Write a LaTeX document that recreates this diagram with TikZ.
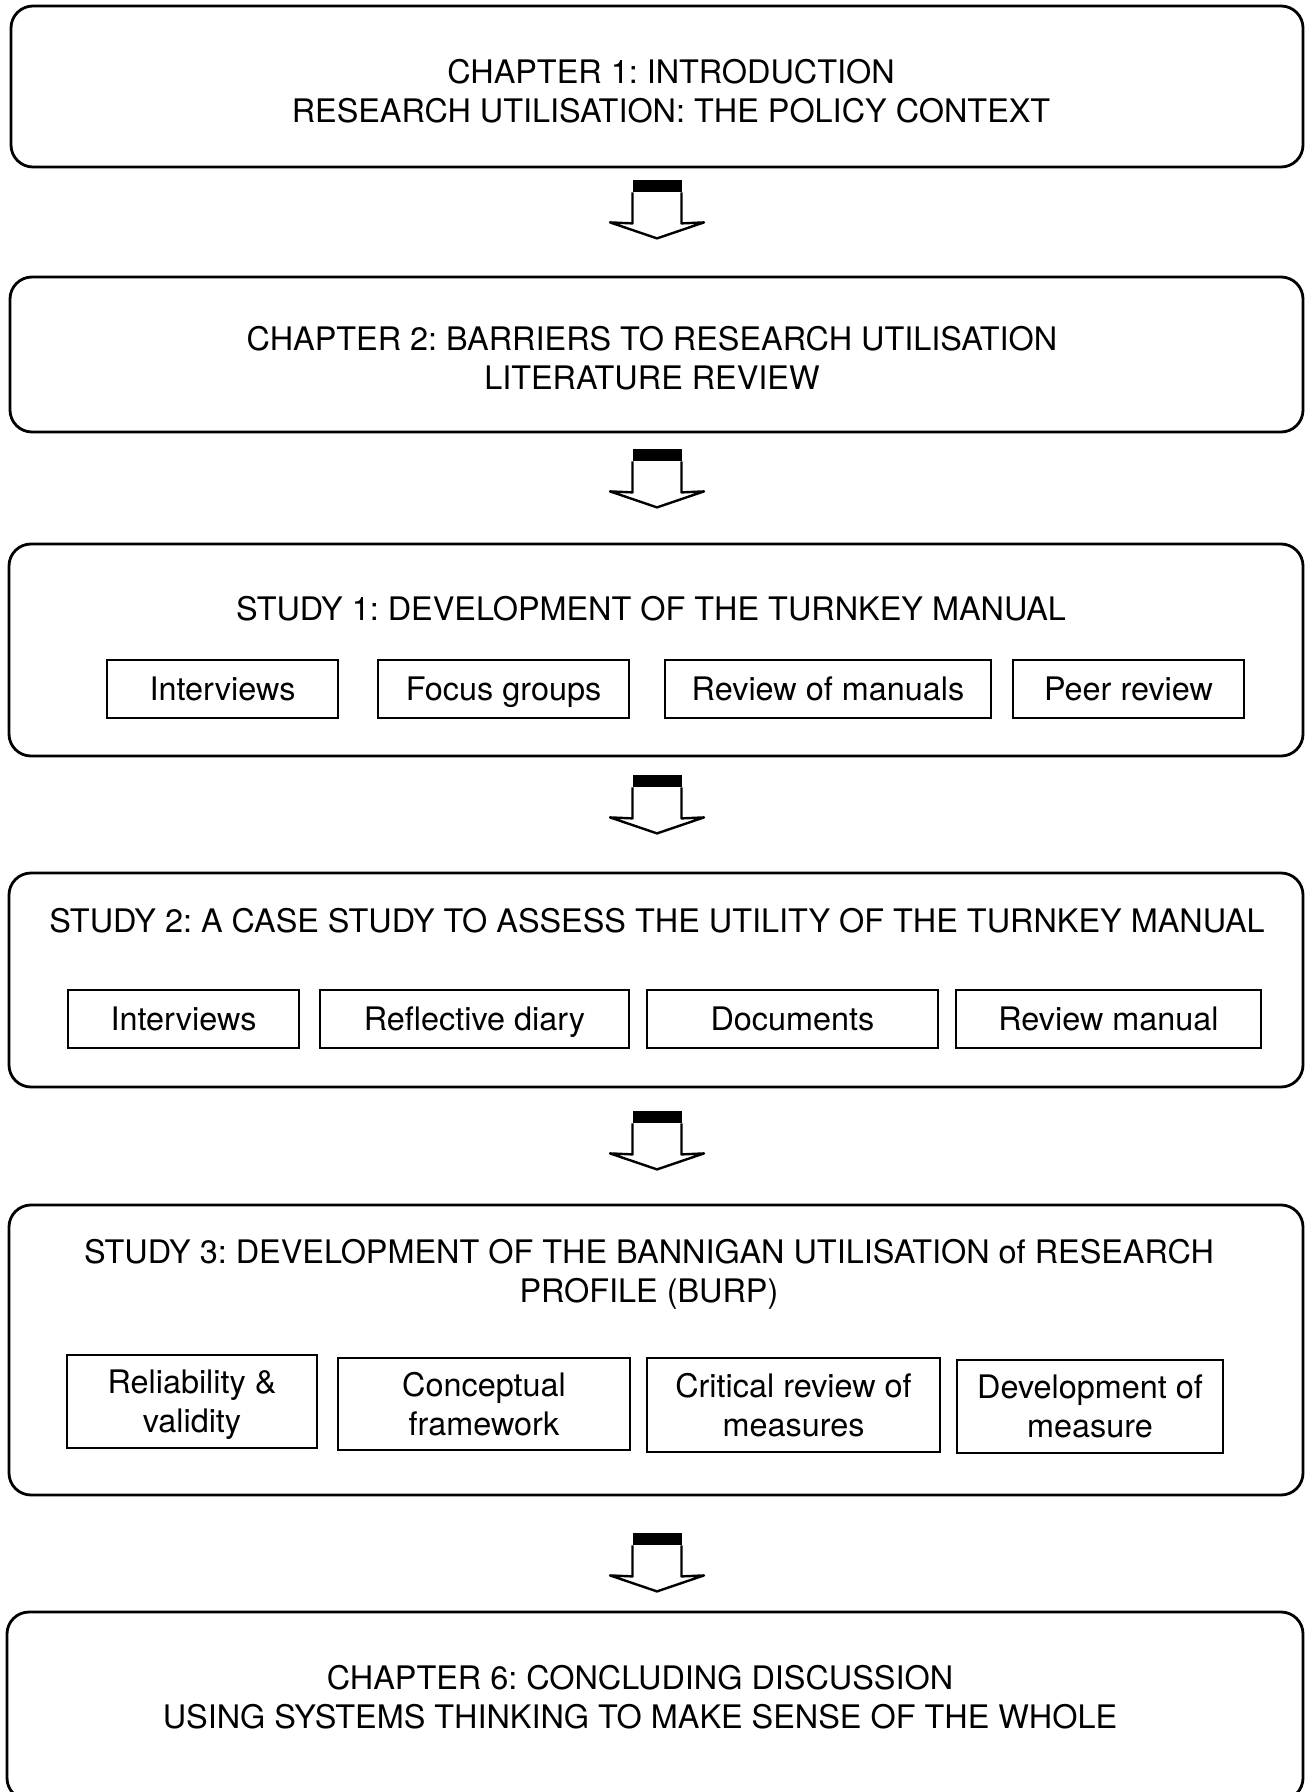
\documentclass[tikz,border=0pt]{standalone}
\usepackage{fontspec}
\setmainfont{TeX Gyre Heros}
\usetikzlibrary{calc}

\begin{document}
\frenchspacing
\begin{tikzpicture}[
  x=0.5pt, y=-0.5pt,
  every node/.style={font=\fontsize{16.2pt}{19.5pt}\selectfont, inner sep=0pt, align=center},
  bigbox/.style 2 args={draw, line width=1.4pt, rounded corners=11pt,
    minimum width=#1*0.5pt, minimum height=#2*0.5pt},
  subbox/.style 2 args={draw, line width=1pt,
    minimum width=#1*0.5pt, minimum height=#2*0.5pt},
  oneline/.style={text height=11.6pt, text depth=0pt},
  twoline/.style={text depth=0pt},
  blockarrow/.pic={
    \fill (-24.5,0) rectangle (24.5,12);
    \draw[line width=1.2pt, fill=white, line join=round]
      (-24.5,12) -- (-24.5,43) -- (-47,42) -- (0,58) -- (47,42) -- (24.5,43) -- (24.5,12);
  }
]
\useasboundingbox (0,0) rectangle (1311,1792);
\clip (0,0) rectangle (1311,1792);

% chapter and study frames
\node[bigbox={1292}{161}] (ch1) at (657,86.5) {};
\node[bigbox={1293}{155}] (ch2) at (656.5,354.5) {};
\node[bigbox={1294}{212}] (st1) at (656,650) {};
\node[bigbox={1294}{214}] (st2) at (656,980) {};
\node[bigbox={1294}{290}] (st3) at (656,1350) {};
\node[bigbox={1296}{188}] (ch6) at (655,1706) {};

% frame titles
\node (ch1t) at (671,91.5) {CHAPTER 1: INTRODUCTION\\RESEARCH UTILISATION: THE POLICY CONTEXT};
\node (ch2t) at (652,358.5) {CHAPTER 2: BARRIERS TO RESEARCH UTILISATION\\LITERATURE REVIEW};
\node (st1t) at (651,609) {STUDY 1: DEVELOPMENT OF THE TURNKEY MANUAL};
\node (st2t) at (657,921) {STUDY 2: A CASE STUDY TO ASSESS THE UTILITY OF THE TURNKEY MANUAL};
\node (st3t) at (649,1274) {STUDY 3: DEVELOPMENT OF THE BANNIGAN UTILISATION of RESEARCH\\PROFILE (BURP)};
\node (ch6t) at (640,1697) {CHAPTER 6: CONCLUDING DISCUSSION\\USING SYSTEMS THINKING TO MAKE SENSE OF THE WHOLE};

% study 1 components
\node[subbox={231}{58}, oneline] (s1a) at (222.5,689) {Interviews};
\node[subbox={251}{58}, oneline] (s1b) at (503.5,689) {Focus groups};
\node[subbox={326}{58}, oneline] (s1c) at (828,689) {Review of manuals};
\node[subbox={231}{58}, oneline] (s1d) at (1128.5,689) {Peer review};

% study 2 components
\node[subbox={231}{58}, oneline] (s2a) at (183.5,1019) {Interviews};
\node[subbox={309}{58}, oneline] (s2b) at (474.5,1019) {Reflective diary};
\node[subbox={291}{58}, oneline] (s2c) at (792.5,1019) {Documents};
\node[subbox={305}{58}, oneline] (s2d) at (1108.5,1019) {Review manual};

% study 3 components
\node[subbox={250}{93}, twoline] (s3a) at (192,1401.5) {Reliability \&\\validity};
\node[subbox={292}{92}, twoline] (s3b) at (484,1404) {Conceptual\\framework};
\node[subbox={293}{94}, twoline] (s3c) at (793.5,1405) {Critical review of\\measures};
\node[subbox={266}{93}, twoline] (s3d) at (1090,1406.5) {Development of\\measure};

% block arrows between frames
\pic at ($(ch1.south)+(0,12)$) {blockarrow};
\pic at ($(ch2.south)+(0.5,16)$) {blockarrow};
\pic at ($(st1.south)+(1,18)$) {blockarrow};
\pic at ($(st2.south)+(1,23)$) {blockarrow};
\pic at ($(st3.south)+(1,37)$) {blockarrow};
\end{tikzpicture}
\end{document}
